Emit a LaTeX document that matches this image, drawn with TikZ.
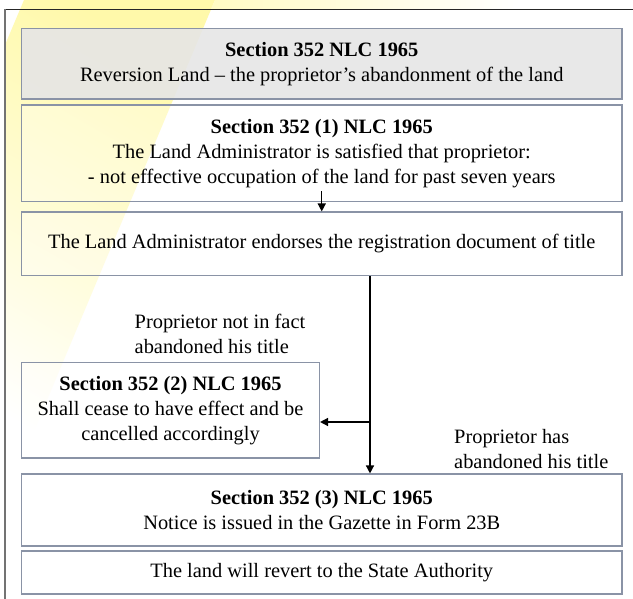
\documentclass[tikz,border=0pt]{standalone}
\usepackage{fontspec}
\setmainfont{Liberation Serif}
\usetikzlibrary{arrows.meta}
\definecolor{boxline}{RGB}{138,147,166}
\definecolor{boxgrey}{RGB}{230,230,230}
\definecolor{wash}{RGB}{255,249,170}
\begin{document}
\begin{tikzpicture}[x=1pt,y=-1pt,
  panel/.style={draw=boxline, line width=1.1pt, rectangle, inner sep=0pt,
    align=center, font=\fontsize{20.4pt}{25pt}\selectfont},
  wide/.style={panel, minimum width=600.5pt},
  note/.style={inner sep=0pt, align=left, font=\fontsize{20.4pt}{25pt}\selectfont},
  flow/.style={line width=1.4pt, -{Triangle[length=8pt,width=8pt]}}]
\useasboundingbox (0,0) rectangle (633,599);
\fill[white] (0,0) rectangle (633,599);
% pale diagonal wash in the background
\shade[top color=wash, middle color=wash!60, bottom color=white, shading angle=-30]
  (24,0) -- (215,0) -- (5,500) -- (5,45) -- cycle;
\shade[left color=wash!70, right color=white] (215,0) -- (520,0) -- (510,9) -- (211,9) -- cycle;
% page frame
\draw[line width=1.5pt, black!85] (640,9.5) -- (5,9.5);
\draw[line width=2pt, black!55] (5,9.5) -- (5,610);

% boxes
\node[wide, fill=boxgrey, fill opacity=0.9, text opacity=1, minimum height=70.5pt] (b1) at (321.75,63.75)
  {\textbf{Section 352 NLC 1965}\\Reversion Land – the proprietor’s abandonment of the land};
\node[wide, fill=white, fill opacity=0.3, text opacity=1, minimum height=96.5pt] (b2) at (321.75,153.25)
  {\textbf{Section 352 (1) NLC 1965}\\The Land Administrator is satisfied that proprietor:\\- not effective occupation of the land for past seven years};
\node[wide, fill=white, fill opacity=0.3, text opacity=1, minimum height=63.6pt] (b3) at (321.75,243.8)
  {The Land Administrator endorses the registration document of title};
\node[panel, fill=white, fill opacity=0.3, text opacity=1, minimum width=298pt, minimum height=95.4pt] (b4) at (170.5,410.3)
  {\textbf{Section 352 (2) NLC 1965}\\Shall cease to have effect and be\\cancelled accordingly};
\node[wide, minimum height=72pt] (b5) at (321.75,510)
  {\textbf{Section 352 (3) NLC 1965}\\Notice is issued in the Gazette in Form 23B};
\node[wide, minimum height=43pt] (b6) at (321.75,572.5)
  {The land will revert to the State Authority};

% branch labels
\node[note, anchor=west] (n1) at (134.5,333.5) {Proprietor not in fact\\abandoned his title};
\node[note, anchor=west] (n2) at (454,449) {Proprietor has\\abandoned his title};

% connectors
\coordinate (split) at (370,422);
\draw[flow] ([yshift=11pt]b2.south) -- (b3.north);
\draw[flow] (b3.south -| split) -- (b5.north -| split);
\draw[flow] (split) -- (split -| b4.east);
\end{tikzpicture}
\end{document}
